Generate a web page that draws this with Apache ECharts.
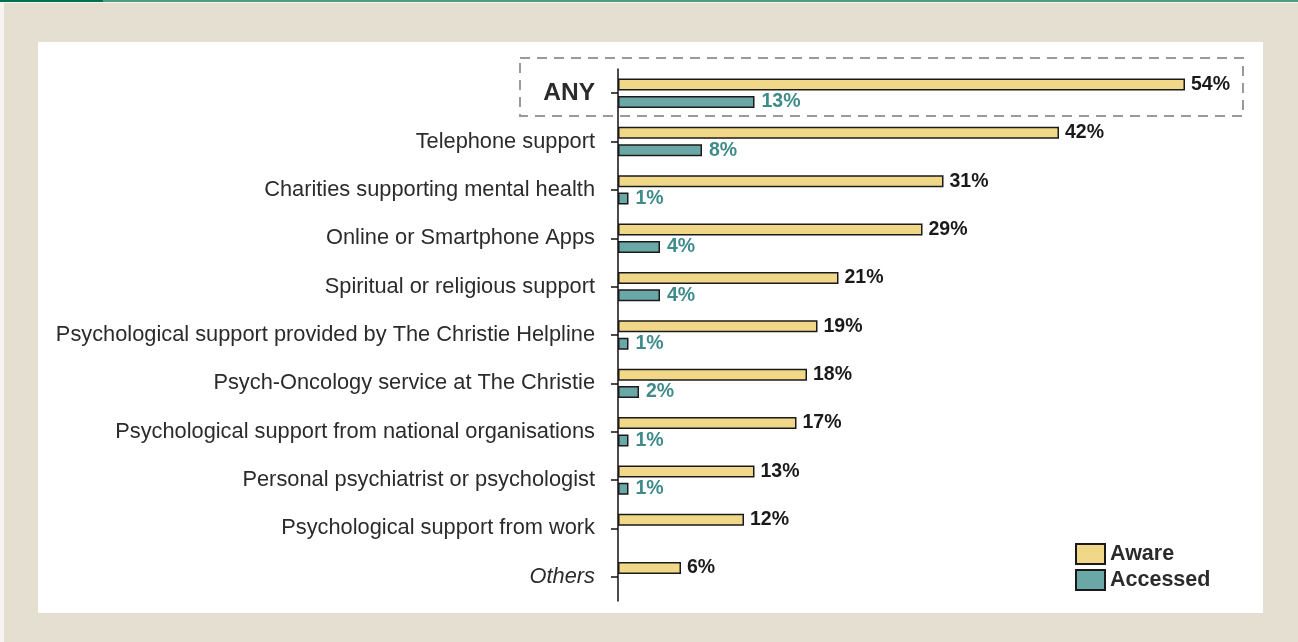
<!DOCTYPE html>
<html>
<head>
<meta charset="utf-8">
<script src="https://cdn.jsdelivr.net/npm/echarts@6/dist/echarts.min.js"></script>
<style>
html,body{margin:0;padding:0;width:1298px;height:642px;overflow:hidden;background:#f6f5f2;}
#topdark{position:absolute;left:0;top:0;width:103px;height:2px;background:#00704f;}
#toplight{position:absolute;left:103px;top:0;width:1195px;height:2px;background:#4f9d80;}
#beige{position:absolute;left:4px;top:3px;width:1294px;height:639px;background:#e5dfd2;}
#card{position:absolute;left:38px;top:42px;width:1225px;height:571px;background:#ffffff;}
#chart{position:absolute;left:0;top:0;width:1298px;height:642px;}
</style>
</head>
<body>
<div id="topdark"></div><div id="toplight"></div>
<div id="beige"></div><div id="card"></div>
<div id="chart"></div>
<script>
const categories = [
  "ANY",
  "Telephone support",
  "Charities supporting mental health",
  "Online or Smartphone Apps",
  "Spiritual or religious support",
  "Psychological support provided by The Christie Helpline",
  "Psych-Oncology service at The Christie",
  "Psychological support from national organisations",
  "Personal psychiatrist or psychologist",
  "Psychological support from work",
  "Others"
];
const aware = [54, 42, 31, 29, 21, 19, 18, 17, 13, 12, 6];
const accessed = [13, 8, 1, 4, 4, 1, 2, 1, 1, null, null];

const chart = echarts.init(document.getElementById('chart'), null, {renderer: 'canvas'});
const FONT = 'Liberation Sans, Arial, sans-serif';
chart.setOption({
  animation: false,
  backgroundColor: 'transparent',
  textStyle: {fontFamily: FONT},
  grid: {left: 618, top: 69, width: 630, height: 532, containLabel: false},
  xAxis: {
    type: 'value', min: 0, max: 60, show: false
  },
  yAxis: {
    type: 'category', data: categories, inverse: true,
    axisLine: {show: true, lineStyle: {color: '#111', width: 1.5}},
    axisTick: {show: true, alignWithLabel: true, length: 7, lineStyle: {color: '#111', width: 1.5}},
    axisLabel: {
      margin: 23, fontSize: 21.8, color: '#2b2b2b', fontFamily: FONT,
      formatter: function (v) {
        if (v === 'ANY') return '{any|ANY}';
        if (v === 'Others') return '{oth|Others}';
        return v;
      },
      rich: {
        any: {fontSize: 24.5, fontWeight: 'bold', color: '#2b2b2b', fontFamily: FONT},
        oth: {fontSize: 21.8, fontStyle: 'italic', color: '#2b2b2b', fontFamily: FONT}
      }
    }
  },
  legend: {
    orient: 'vertical', left: 1075, top: 542, itemWidth: 29, itemHeight: 20, itemGap: 2,
    itemTextGap: 10, padding: 0,
    icon: 'rect',
    textStyle: {fontSize: 21.5, fontWeight: 'bold', color: '#2b2b2b', fontFamily: FONT, lineHeight: 24},
    data: ['Aware', 'Accessed']
  },
  series: [
    {
      name: 'Aware', type: 'bar', data: aware, barWidth: 12, barGap: '45%',
      itemStyle: {color: '#f1d888', borderColor: '#1a1a1a', borderWidth: 1.5},
      label: {show: true, position: 'right', distance: 6, formatter: '{c}%', fontSize: 19.5, fontWeight: 'bold', color: '#1a1a1a', fontFamily: FONT}
    },
    {
      name: 'Accessed', type: 'bar', data: accessed, barWidth: 12,
      itemStyle: {color: '#6aa8a7', borderColor: '#1a1a1a', borderWidth: 1.5},
      label: {show: true, position: 'right', distance: 7, formatter: '{c}%', fontSize: 19.5, fontWeight: 'bold', color: '#3e8b8a', fontFamily: FONT}
    }
  ],
  graphic: [
    {
      type: 'rect', shape: {x: 520, y: 58, width: 723, height: 58}, silent: true,
      style: {fill: 'none', stroke: '#9a9a9a', lineWidth: 2, lineDash: [10, 7]}
    }
  ]
});
</script>
</body>
</html>
